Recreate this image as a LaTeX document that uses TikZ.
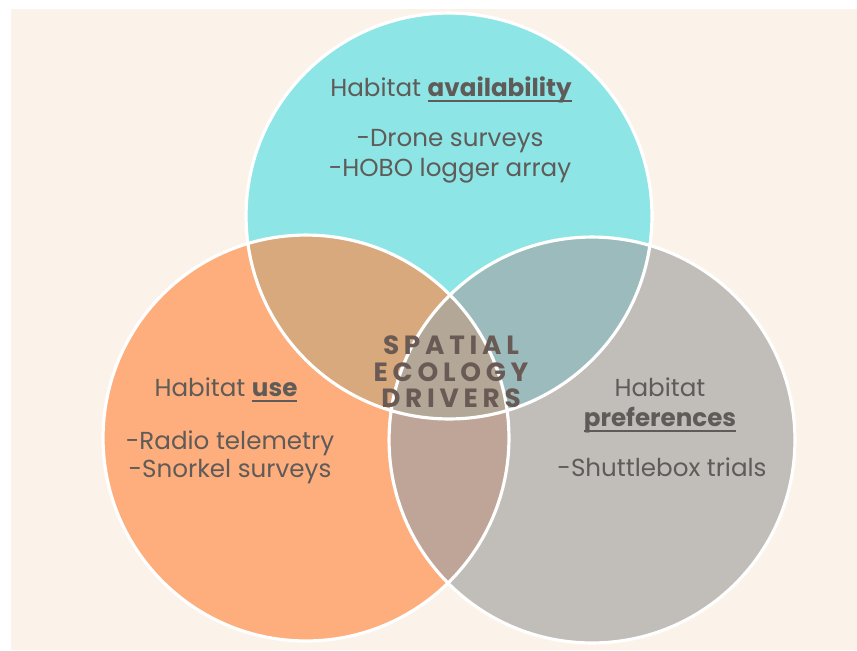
\documentclass[tikz,border=0pt]{standalone}
\usepackage{fontspec}
\setmainfont{Poppins}
\newfontfamily\spaced[LetterSpace=18]{Poppins}
\usepackage{tikz}
\usetikzlibrary{positioning}

% Colours of the three sets and their overlaps
\definecolor{cream}{HTML}{FBF2EA}
\definecolor{availcol}{HTML}{8DE5E5}
\definecolor{usecol}{HTML}{FEAE7C}
\definecolor{prefcol}{HTML}{C1BEB9}
\definecolor{availuse}{HTML}{D7A97C}
\definecolor{availpref}{HTML}{9CBBBC}
\definecolor{usepref}{HTML}{BFA598}
\definecolor{allcol}{HTML}{B3A898}
\definecolor{txtgray}{HTML}{5F5B59}
\definecolor{titlecol}{HTML}{6A5A55}

% bold word with a heavier underline
\newcommand{\boldul}[1]{\setbox0\hbox{\textbf{#1}}\rlap{\rule[-3.2pt]{\wd0}{1.1pt}}\box0}

\tikzset{
    venn/.style={draw=white, line width=1.8pt},
    habtext/.style={text=txtgray, align=center, font=\fontsize{14}{17}\selectfont},
    centretext/.style={text=titlecol, align=center, font=\spaced\bfseries\fontsize{15}{15}\selectfont},
}

\begin{document}
\begin{tikzpicture}[x=0.02cm, y=-0.02cm]
    \useasboundingbox (0,0) rectangle (857,650);
    \fill [white] (0,0) rectangle (857,650);
    \fill [cream] (11,9) rectangle (857,650);

    % Circle centres
    \def\rad{4.06cm}
    \coordinate (avail) at (449,216);
    \coordinate (use) at (306,438);
    \coordinate (pref) at (592,440);

    % Sets
    \fill [availcol] (avail) circle (\rad);
    \fill [usecol] (use) circle (\rad);
    \fill [prefcol] (pref) circle (\rad);

    % Pairwise overlaps
    \begin{scope}
        \clip (avail) circle (\rad);
        \fill [availuse] (use) circle (\rad);
        \fill [availpref] (pref) circle (\rad);
    \end{scope}
    \begin{scope}
        \clip (use) circle (\rad);
        \fill [usepref] (pref) circle (\rad);
    \end{scope}

    % Overlap of all three
    \begin{scope}
        \clip (avail) circle (\rad);
        \clip (use) circle (\rad);
        \fill [allcol] (pref) circle (\rad);
    \end{scope}

    % Outlines
    \draw [venn] (avail) circle (\rad);
    \draw [venn] (use) circle (\rad);
    \draw [venn] (pref) circle (\rad);

    % Labels
    \node [habtext] (availhead) at (451,90) {Habitat \boldul{availability}};
    \node [habtext] (availlist) at (450,156) {-Drone surveys\\-HOBO logger array};

    \node [habtext] (usehead) at (226,390) {Habitat \boldul{use}};
    \node [habtext, font=\fontsize{14}{16}\selectfont] (uselist) at (230,457) {-Radio telemetry\\-Snorkel surveys};

    \node [habtext] (prefhead) at (660,405) {Habitat\\\boldul{preferences}};
    \node [habtext] (preflist) at (662,467) {-Shuttlebox trials};

    \node [centretext] (drivers) at (451,372) {SPATIAL\\ECOLOGY\\DRIVERS};
\end{tikzpicture}
\end{document}
